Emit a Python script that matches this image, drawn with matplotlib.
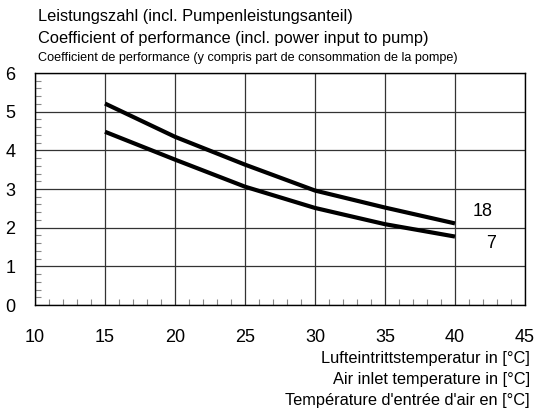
import matplotlib
matplotlib.use("Agg")
import matplotlib.pyplot as plt
from matplotlib.ticker import MultipleLocator
import matplotlib.font_manager as fm

plt.rcParams['font.family'] = ['Liberation Sans', 'DejaVu Sans']

x_temp = [15, 20, 25, 30, 35, 40]
cop_18 = [5.21, 4.35, 3.63, 2.96, 2.52, 2.11]
cop_7 = [4.48, 3.76, 3.06, 2.51, 2.09, 1.77]
series_labels = ["18", "7"]
x_ticks = [10, 15, 20, 25, 30, 35, 40, 45]
y_ticks = [0, 1, 2, 3, 4, 5, 6]

title_lines = ["Leistungszahl (incl. Pumpenleistungsanteil)",
               "Coefficient of performance (incl. power input to pump)",
               "Coefficient de performance (y compris part de consommation de la pompe)"]
xlabel_lines = ["Lufteintrittstemperatur in [°C]",
                "Air inlet temperature in [°C]",
                "Température d'entrée d'air en [°C]"]

W, H = 539, 411
fig = plt.figure(figsize=(W / 100, H / 100), dpi=100)
ax = fig.add_axes([35 / W, 1 - 305 / H, 490 / W, 232 / H])

ax.plot(x_temp, cop_18, color='black', lw=3.0, solid_capstyle='butt')
ax.plot(x_temp, cop_7, color='black', lw=3.0, solid_capstyle='butt')

ax.set_xlim(10, 45)
ax.set_ylim(0, 6)
ax.set_xticks(x_ticks)
ax.set_yticks(y_ticks)
ax.xaxis.set_minor_locator(MultipleLocator(1))
ax.yaxis.set_minor_locator(MultipleLocator(0.2))
ax.grid(True, which='major', color='#333333', lw=0.9)
ax.tick_params(which='major', length=0, labelsize=13)
ax.tick_params(axis='x', which='major', pad=17)
ax.tick_params(axis='y', which='major', pad=14)
ax.tick_params(which='minor', direction='in', length=4, color='#888888', width=0.8)
for s in ax.spines.values():
    s.set_linewidth(1.0)
    s.set_color('black')

# curve labels
ax.text(42.0, 2.43, series_labels[0], fontsize=13, ha='center', va='center')
ax.text(42.57, 1.60, series_labels[1], fontsize=13, ha='center', va='center')

# titles
fig.text(38 / W, 1 - 17 / H, title_lines[0], fontsize=11.8, ha='left', va='center')
fig.text(38 / W, 1 - 39 / H, title_lines[1], fontsize=11.8, ha='left', va='center')
narrow = 'Liberation Sans Narrow'
names = {f.name for f in fm.fontManager.ttflist}
fam3 = [narrow, 'Liberation Sans'] if narrow in names else ['Liberation Sans']
fig.text(38 / W, 1 - 58 / H, title_lines[2], fontsize=9.1, ha='left', va='center', family=fam3)

for i, t in enumerate(xlabel_lines):
    fig.text(530 / W, 1 - (358 + 21 * i) / H, t, fontsize=11.8, ha='right', va='center')

fig.savefig("out.png", dpi=100)
